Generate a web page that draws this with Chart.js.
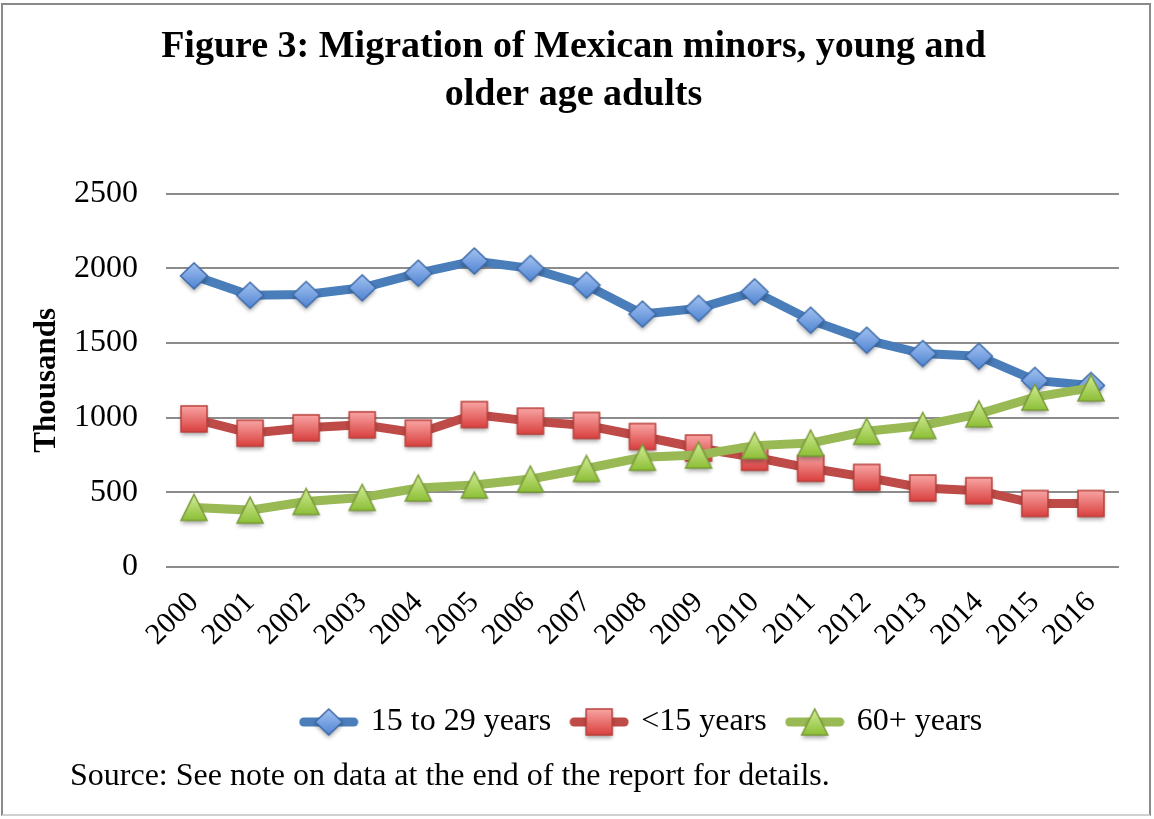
<!DOCTYPE html>
<html>
<head>
<meta charset="utf-8">
<script src="https://cdn.jsdelivr.net/npm/chart.js@4.4.1/dist/chart.umd.min.js"></script>
<style>
  html, body { margin: 0; padding: 0; background: #fff; }
  #wrap { position: relative; width: 1154px; height: 819px; }
  #frame { position: absolute; left: 1px; top: 3px; width: 1150px; height: 813px; border: 2px solid #8a8a8a; border-bottom-color: #d0d0d0; box-sizing: border-box; pointer-events: none; }
</style>
</head>
<body>
<div id="wrap">
  <canvas id="myChart" width="1154" height="819"></canvas>
  <div id="frame"></div>
</div>
<script>
// data (thousands)
const years = ['2000', '2001', '2002', '2003', '2004', '2005', '2006', '2007', '2008',
  '2009', '2010', '2011', '2012', '2013', '2014', '2015', '2016'];
const age15to29 = [1950, 1820, 1825, 1870, 1968, 2050, 2000, 1888, 1694, 1732, 1843, 1653, 1519, 1430, 1412, 1250, 1216];
const under15 = [992, 896, 932, 952, 896, 1021, 977, 948, 874, 797, 735, 661, 600, 529, 511, 425, 425];
const age60plus = [399, 381, 439, 466, 529, 549, 589, 660, 735, 750, 813, 830, 909, 948, 1026, 1138, 1200];
const seriesNames = ['15 to 29 years', '<15 years', '60+ years'];
const yTicks = [0, 500, 1000, 1500, 2000, 2500];

const serif = '"Liberation Serif", "Times New Roman", serif';

// colours per series: line, marker top, marker bottom, marker border
const blue = { line: '#4a7ebb', top: '#a4c3f2', bottom: '#4f84d2', border: '#3d6aa8', shape: 'diamond' };
const red = { line: '#be4b48', top: '#f8a5a4', bottom: '#d9403e', border: '#b9403d', shape: 'square' };
const green = { line: '#98b954', top: '#d4ec98', bottom: '#8cbf36', border: '#7a9c39', shape: 'triangle' };

// marker picture, Excel style: shape centred on its box, gradient and a soft shadow
function markerImage(s) {
  const cv = document.createElement('canvas');
  cv.width = 46;
  cv.height = 46;
  const c = cv.getContext('2d');
  const cx = 23, cy = 23, h = 13;
  const g = c.createLinearGradient(0, cy - h, 0, cy + h);
  g.addColorStop(0, s.top);
  g.addColorStop(1, s.bottom);
  c.beginPath();
  if (s.shape === 'diamond') {
    c.moveTo(cx, cy - h); c.lineTo(cx + h + 0.5, cy); c.lineTo(cx, cy + h); c.lineTo(cx - h - 0.5, cy);
  } else if (s.shape === 'square') {
    c.rect(cx - h, cy - h, 2 * h, 2 * h);
  } else {
    c.moveTo(cx, cy - h); c.lineTo(cx + h, cy + h); c.lineTo(cx - h, cy + h);
  }
  c.closePath();
  c.save();
  c.shadowColor = 'rgba(0,0,0,0.35)';
  c.shadowBlur = 4;
  c.shadowOffsetY = 3;
  c.fillStyle = g;
  c.fill();
  c.restore();
  c.strokeStyle = s.border;
  c.lineWidth = 1.5;
  c.stroke();
  return cv;
}

// line + marker picture for the legend
function legendIcon(s, mark) {
  const cv = document.createElement('canvas');
  cv.width = 60;
  cv.height = 46;
  const c = cv.getContext('2d');
  c.strokeStyle = s.line;
  c.lineWidth = 9;
  c.lineCap = 'round';
  c.beginPath();
  c.moveTo(5, 23);
  c.lineTo(55, 23);
  c.stroke();
  c.drawImage(mark, 7, 0);
  return cv;
}

const marks = [markerImage(blue), markerImage(red), markerImage(green)];
const icons = [legendIcon(blue, marks[0]), legendIcon(red, marks[1]), legendIcon(green, marks[2])];

function makeSet(label, data, s, mark, order) {
  return {
    label: label,
    data: data,
    order: order,
    borderColor: s.line,
    borderWidth: 9,
    tension: 0,
    pointStyle: mark,
    pointRadius: 13,
    pointBorderWidth: 0
  };
}

const sourcePlugin = {
  id: 'sourceNote',
  afterDraw(chart) {
    const c = chart.ctx;
    c.save();
    c.font = '32px ' + serif;
    c.fillStyle = '#000';
    c.textBaseline = 'alphabetic';
    c.fillText('Source: See note on data at the end of the report for details.', 70, 785);
    c.restore();
  }
};

const ctx = document.getElementById('myChart');
const sets = [
  makeSet(seriesNames[0], age15to29, blue, marks[0], 3),
  makeSet(seriesNames[1], under15, red, marks[1], 2),
  makeSet(seriesNames[2], age60plus, green, marks[2], 1)
];

let myChart = new Chart(ctx, {
  type: 'line',
  data: { labels: years, datasets: sets },
  plugins: [sourcePlugin],
  options: {
    responsive: false,
    animation: false,
    events: [],
    layout: { padding: { left: 28, right: 35, top: 22, bottom: 71 } },
    plugins: {
      tooltip: { enabled: false },
      title: {
        display: true,
        text: ['Figure 3: Migration of Mexican minors, young and', 'older age adults'],
        color: '#000',
        font: { family: serif, size: 38, weight: 'bold', lineHeight: 1.26 },
        padding: { top: 1, bottom: 75 }
      },
      legend: {
        position: 'bottom',
        fullSize: false,
        labels: {
          usePointStyle: true,
          pointStyleWidth: 52,
          color: '#000',
          padding: 22,
          font: { family: serif, size: 32 },
          generateLabels: (chart) => sets.map((d, i) => ({
            text: d.label,
            datasetIndex: i,
            pointStyle: icons[i],
            fillStyle: d.borderColor,
            strokeStyle: d.borderColor,
            lineWidth: 0,
            hidden: false
          }))
        }
      }
    },
    scales: {
      x: {
        offset: true,
        grid: { display: false },
        border: { display: false },
        afterFit: (axis) => { axis.height = 117; },
        ticks: {
          color: '#000',
          font: { family: serif, size: 30 },
          minRotation: 45,
          maxRotation: 45,
          padding: 10,
          autoSkip: false
        }
      },
      y: {
        min: 0,
        max: 2500,
        afterBuildTicks: (axis) => { axis.ticks = yTicks.map(v => ({ value: v })); },
        afterFit: (axis) => { axis.width = 138; },
        grid: { color: '#8c8c8c', lineWidth: 2, drawTicks: false },
        border: { display: false },
        ticks: {
          color: '#000',
          font: { family: serif, size: 32 },
          padding: 28,
          callback: (v) => String(v)
        },
        title: {
          display: true,
          text: 'Thousands',
          color: '#000',
          font: { family: serif, size: 31, weight: 'bold' },
          padding: { top: 0, bottom: 4 }
        }
      }
    }
  }
});
</script>
</body>
</html>
